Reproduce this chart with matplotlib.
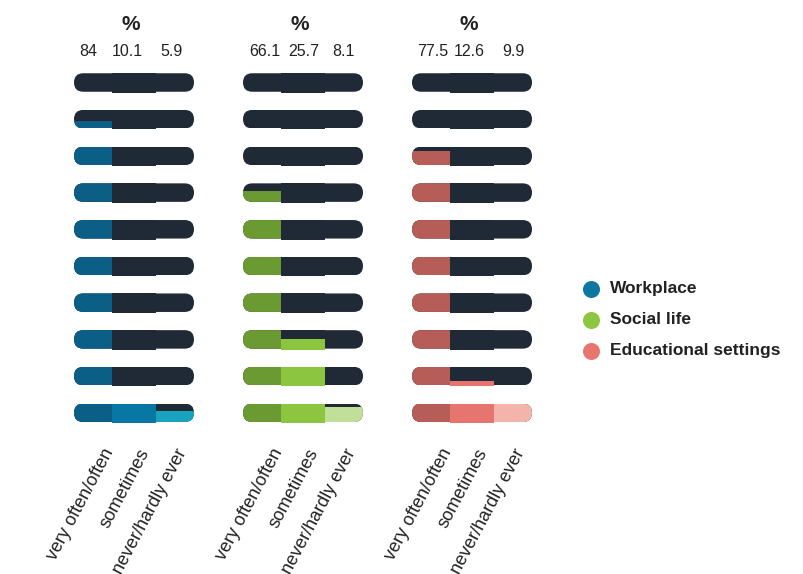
import matplotlib.pyplot as plt
from matplotlib.patches import FancyBboxPatch
import numpy as np

plt.rcParams['font.family'] = ['Liberation Sans', 'DejaVu Sans']

## Data
settings = ['Workplace', 'Social life', 'Educational settings']
answers = ['very often/often', 'sometimes', 'never/hardly ever']
workplace = [84, 10.1, 5.9]
social_life = [66.1, 25.7, 8.1]
educational = [77.5, 12.6, 9.9]
values = [workplace, social_life, educational]

# one shade per answer, plus the legend colour
shades = [['#0b5f86', '#0877a3', '#1aa3bf'],
          ['#6a9a31', '#8cc540', '#c2df9a'],
          ['#b55d56', '#e7756f', '#f2b4ab']]
legend_colors = ['#0e77a1', '#8dc63f', '#e8766f']
dark = '#1f2a36'

## Layout (pixel units)
n_rows = 10
row_step = 36.7
pill_h = 18.5
top_row_y = 82.5
seg_widths = np.array([38, 44, 38])
panel_x0 = [74, 243, 412]
num_offsets = [[14.5, 53, 97.5], [22, 61, 100], [21, 57, 101.5]]
label_offsets = [28, 64, 101]

fig = plt.figure(figsize=(8.04, 5.74), dpi=100)
ax = fig.add_axes([0, 0, 1, 1])
ax.set_xlim(0, 804)
ax.set_ylim(574, 0)
ax.axis('off')

for p, vals in enumerate(values):
    x0 = panel_x0[p]
    lefts = x0 + np.concatenate([[0], np.cumsum(seg_widths)[:-1]])
    total_w = seg_widths.sum()
    # middle segment sits a touch lower than the rounded pill
    heights = np.array([pill_h, pill_h + 1, pill_h])
    for r in range(n_rows):  # r = 0 is the bottom row
        yc = top_row_y + (n_rows - 1 - r) * row_step
        pill = FancyBboxPatch((x0, yc - pill_h / 2), total_w, pill_h,
                              boxstyle=f'round,pad=0,rounding_size={pill_h / 2}',
                              fc='none', ec='none')
        ax.add_patch(pill)
        fill = np.clip(np.array(vals) / 10 - r, 0, 1)
        bottoms = yc - pill_h / 2 + heights
        bg = ax.bar(lefts, heights, width=seg_widths, bottom=yc - pill_h / 2,
                    align='edge', color=dark, lw=0)
        fg = ax.bar(lefts, -fill * heights, width=seg_widths, bottom=bottoms,
                    align='edge', color=shades[p], lw=0)
        for k in (0, 2):
            bg[k].set_clip_path(pill)
            fg[k].set_clip_path(pill)

    # header
    ax.text(x0 + total_w / 2 - 3, 25, '%', ha='center', va='center',
            fontsize=15, fontweight='bold', color='#222222')
    for k, v in enumerate(vals):
        ax.text(x0 + num_offsets[p][k], 52, f'{v:g}', ha='center', va='center',
                fontsize=11.5, color='#222222')
    # answer labels
    for k, lab in enumerate(answers):
        ax.text(x0 + label_offsets[k], 446, lab, rotation=62, rotation_mode='anchor',
                ha='right', va='top', fontsize=13, color='#222222')

# legend
for i, (name, col) in enumerate(zip(settings, legend_colors)):
    y = 289 + i * 31
    ax.scatter([591], [y], s=150, color=col, lw=0)
    ax.text(610, y, name, ha='left', va='center', fontsize=12.5,
            fontweight='bold', color='#222222')

fig.savefig('out.png', dpi=100)
